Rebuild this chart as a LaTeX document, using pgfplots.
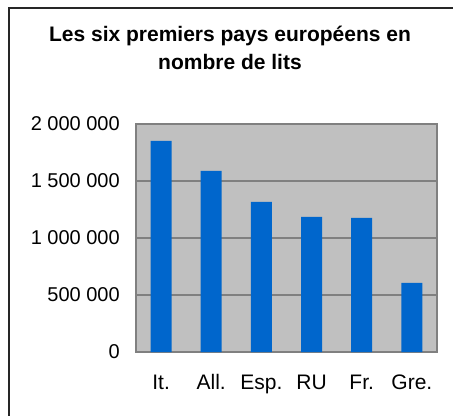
\documentclass[border=0pt]{standalone}
\usepackage{fontspec}
\setmainfont{Liberation Sans}
\usepackage{pgfplots}
\pgfplotsset{compat=1.18}

\definecolor{barblue}{HTML}{0066CC}
\definecolor{plotbg}{HTML}{C0C0C0}
\definecolor{framegray}{HTML}{808080}

\begin{document}
\begin{tikzpicture}
% frame of the chart (right and bottom edges fall outside the page)
\draw[line width=1.1pt, black!85] (6.75pt,-330pt) -- (6.75pt,-6pt) -- (350pt,-6pt);

\node[anchor=base, font=\fontsize{15.75}{18}\selectfont\bfseries] at (172.5pt,-30.75pt) {Les six premiers pays européens en};
\node[anchor=base, font=\fontsize{15.75}{18}\selectfont\bfseries] at (172.5pt,-51.75pt) {nombre de lits};

\begin{axis}[
    at={(102pt,-264pt)}, anchor=south west,
    scale only axis,
    width=225.75pt, height=171pt,
    xmin=-0.5, xmax=5.5,
    ymin=0, ymax=2000000,
    xtick={0,1,2,3,4,5},
    xticklabels={It.,All.,Esp.,RU,Fr.,Gre.},
    ytick={0,500000,1000000,1500000,2000000},
    yticklabels={0,500 000,1 000 000,1 500 000,2 000 000},
    scaled y ticks=false,
    major tick length=0pt,
    ymajorgrids,
    grid style={framegray, line width=0.8pt},
    axis line style={framegray, line width=1.5pt},
    axis background/.style={fill=plotbg},
    xticklabel style={anchor=base, inner sep=0pt, yshift=-27.75pt, font=\fontsize{15.75}{18}\selectfont},
    yticklabel style={anchor=east, inner sep=0pt, xshift=-12pt, font=\fontsize{15}{18}\selectfont},
]
\addplot[ybar, bar width=15.75pt, fill=barblue, draw=none] coordinates {
    (0,1851000) (1,1588000) (2,1317000) (3,1185000) (4,1177000) (5,607000)
};
\end{axis}

\pgfresetboundingbox
\useasboundingbox (0,0) rectangle (339.75pt,-311.25pt);
\end{tikzpicture}
\end{document}
